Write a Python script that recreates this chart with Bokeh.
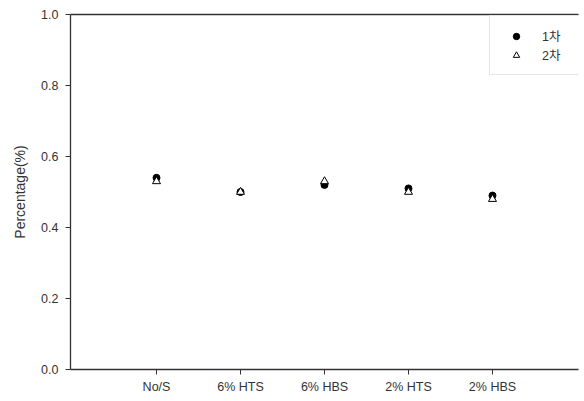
from bokeh.plotting import figure
from bokeh.models import Range1d, FixedTicker, LinearAxis, Legend, LegendItem
from bokeh.embed import file_html
from bokeh.resources import INLINE

categories = ["No/S", "6% HTS", "6% HBS", "2% HTS", "2% HBS"]
positions = [1, 2, 3, 4, 5]
series1 = [0.54, 0.50, 0.52, 0.51, 0.49]   # 1차
series2 = [0.53, 0.50, 0.53, 0.50, 0.48]   # 2차
y_ticks = [0.0, 0.2, 0.4, 0.6, 0.8, 1.0]

FONT = "Liberation Sans, Noto Sans CJK KR"
AX = "#333333"

p = figure(width=580, height=398, output_backend="svg", toolbar_location=None,
           x_range=Range1d(-0.024, 6.024), y_range=Range1d(0.0, 1.0),
           min_border_left=70, min_border_right=2, min_border_top=14,
           min_border_bottom=29)
p.outline_line_color = None
p.grid.grid_line_color = None
p.background_fill_color = "white"
p.border_fill_color = "white"

p.xaxis.ticker = FixedTicker(ticks=positions)
p.xaxis.major_label_overrides = {pos: c for pos, c in zip(positions, categories)}
p.yaxis.ticker = FixedTicker(ticks=y_ticks)
p.yaxis.major_label_overrides = {t: f"{t:.1f}" for t in y_ticks}
p.yaxis.axis_label = "Percentage(%)"

for ax in (p.xaxis[0], p.yaxis[0]):
    ax.axis_line_color = AX
    ax.axis_line_width = 1.3
    ax.major_tick_line_color = AX
    ax.major_tick_in = 0
    ax.major_tick_out = 5
    ax.minor_tick_line_color = None
    ax.major_label_text_font = FONT
    ax.major_label_text_font_size = "12.5px"
    ax.major_label_text_color = "#333333"
    ax.axis_label_text_font = FONT
    ax.axis_label_text_font_size = "14px"
    ax.axis_label_text_font_style = "normal"
    ax.axis_label_text_color = "#333333"
p.yaxis.major_label_standoff = 7
p.yaxis.axis_label_standoff = 10
p.xaxis.major_label_standoff = 5

top = LinearAxis(ticker=FixedTicker(ticks=[]), axis_line_color=AX, axis_line_width=1.3,
                 major_tick_line_color=None, minor_tick_line_color=None,
                 major_label_text_font_size="0px")
p.add_layout(top, "above")

r1 = p.scatter(positions, series1, marker="circle", size=7, fill_color="black",
               line_color="black")
r2 = p.scatter(positions, series2, marker="triangle", size=8, fill_color="white",
               line_color="black", line_width=1)

legend = Legend(items=[LegendItem(label="1차", renderers=[r1]),
                       LegendItem(label="2차", renderers=[r2])],
                location=(419, 294))
legend.border_line_color = "#cccccc"
legend.border_line_width = 1
legend.padding = 10
legend.spacing = 0
legend.margin = 0
legend.glyph_width = 32
legend.glyph_height = 16
legend.label_height = 16
legend.label_width = 28
legend.label_standoff = 10
legend.label_text_font = FONT
legend.label_text_font_size = "12.5px"
legend.label_text_color = "#333333"
legend.background_fill_alpha = 1
p.add_layout(legend, "center")

open("out.html", "w").write(file_html(p, INLINE))
